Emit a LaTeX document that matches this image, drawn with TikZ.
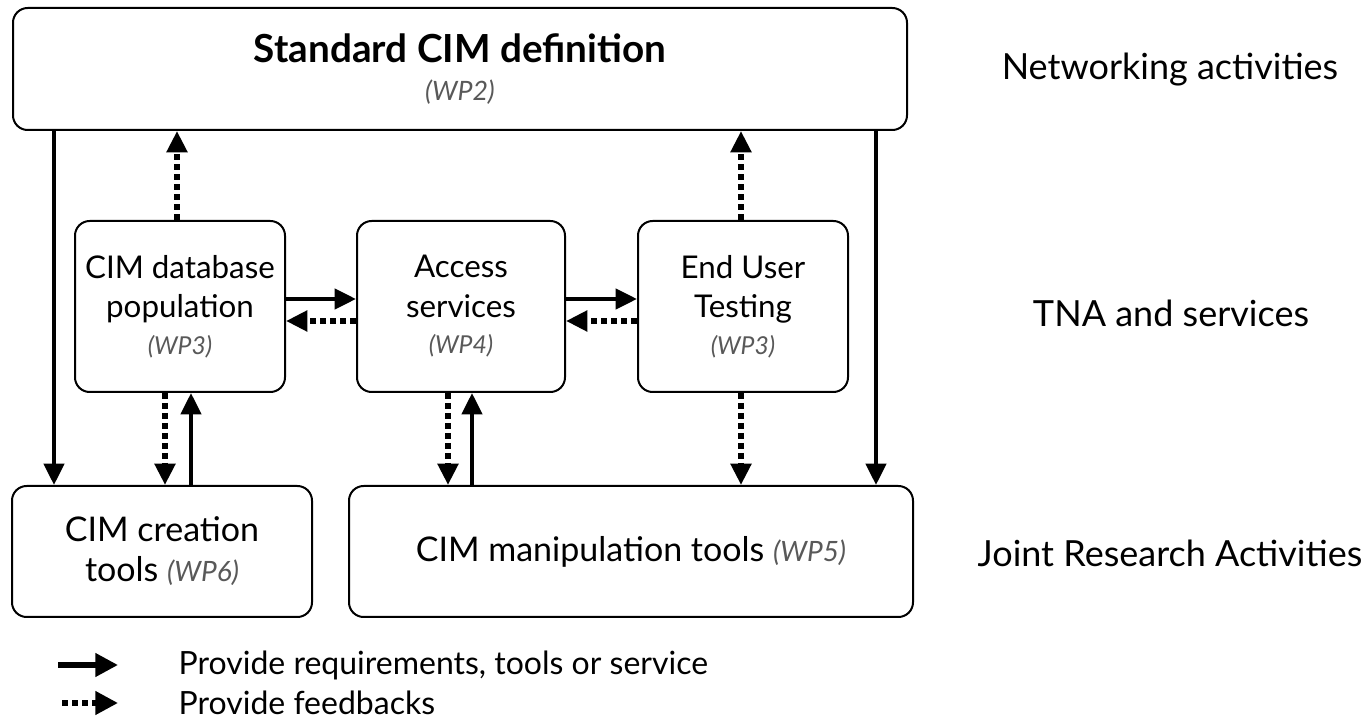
\documentclass[tikz,border=0pt]{standalone}
\usepackage{fontspec}
\setmainfont{Lato}
\usetikzlibrary{arrows.meta,calc}
\definecolor{wpgrey}{gray}{0.35}
\newcommand{\wpnum}[2][18.5]{{\itshape\color{wpgrey}\fontsize{#1}{22}\selectfont #2}}
\tikzset{
  box/.style={draw=black, line width=1.5pt, rounded corners=11pt, fill=white, align=center, inner sep=0pt,
    font=\fontsize{23.5}{29.5}\selectfont},
  lowbox/.style={box, font=\fontsize{25.5}{30}\selectfont},
  req/.style={line width=3.2pt, -{Triangle[length=16pt,width=15pt]}},
  fb/.style={line width=3.9pt, dash pattern=on 4.5pt off 3pt, -{Triangle[length=16pt,width=15pt]}},
  legreq/.style={line width=4pt, -{Triangle[length=17pt,width=17pt]}},
  legfb/.style={line width=4pt, dash pattern=on 4.5pt off 3pt, -{Triangle[length=17pt,width=17pt]}},
  side/.style={font=\fontsize{27}{30}\selectfont, anchor=center},
  leg/.style={font=\fontsize{24}{27}\selectfont, anchor=west},
}
\begin{document}
\begin{tikzpicture}[x=0.75pt,y=-0.75pt]
\useasboundingbox (0,0) rectangle (1365,723);
% boxes
\node[box, minimum width=894*0.75pt, minimum height=122*0.75pt] (top) at (460,69)
  {{\bfseries\fontsize{29}{32}\selectfont Standard CIM definition}\\[-1pt]\wpnum[20]{(WP2)}};
\node[box, minimum width=210*0.75pt, minimum height=171*0.75pt] (m1) at (180,306.5)
  {CIM database\\population\\[-2pt]\wpnum{(WP3)}};
\node[box, minimum width=208*0.75pt, minimum height=171*0.75pt] (m2) at (461,306.5)
  {Access\\services\\[-2pt]\wpnum{(WP4)}};
\node[box, minimum width=210*0.75pt, minimum height=171*0.75pt] (m3) at (743,306.5)
  {End User\\Testing\\[-2pt]\wpnum{(WP3)}};
\node[lowbox, minimum width=300*0.75pt, minimum height=131*0.75pt] (bl) at (162,551.5)
  {CIM creation\\tools \wpnum[21]{(WP6)}};
\node[lowbox, minimum width=564*0.75pt, minimum height=131*0.75pt] (br) at (631,551.5)
  {CIM manipulation tools \wpnum[21]{(WP5)}};
% side labels
\node[side] (l1) at (1170,70) {Networking activities};
\node[side] (l2) at (1171,313) {TNA and services};
\node[side] (l3) at (1170,553) {Joint Research Activities};
% long vertical arrows
\draw[req] ($(top.south west)+(42,0)$) coordinate (a1) -- (a1 |- bl.north);
\draw[req] ($(top.south west)+(864,0)$) coordinate (a2) -- (a2 |- br.north);
% feedback to top
\draw[fb] ($(m1.north west)+(103,0)$) coordinate (f1) -- (f1 |- top.south);
\draw[fb] ($(m3.north west)+(104,0)$) coordinate (f2) -- (f2 |- top.south);
% horizontal
\draw[req] ($(m1.east)+(0,-7.5)$) coordinate (h1) -- (h1 -| m2.west);
\draw[fb] ($(m2.west)+(0,14.5)$) coordinate (h2) -- (h2 -| m1.east);
\draw[req] ($(m2.east)+(0,-7.5)$) coordinate (h3) -- (h3 -| m3.west);
\draw[fb] ($(m3.west)+(0,14.5)$) coordinate (h4) -- (h4 -| m2.east);
% vertical middle-bottom
\draw[fb] ($(m1.south west)+(91,0)$) coordinate (v1) -- (v1 |- bl.north);
\coordinate (v2) at ($(m1.south west)+(117,0)$);
\draw[req] (v2 |- bl.north) -- (v2);
\draw[fb] ($(m2.south west)+(92,0)$) coordinate (v3) -- (v3 |- br.north);
\coordinate (v4) at ($(m2.south west)+(116,0)$);
\draw[req] (v4 |- br.north) -- (v4);
\draw[fb] ($(m3.south west)+(104,0)$) coordinate (v5) -- (v5 |- br.north);
% legend
\coordinate (ls1) at (58,665);
\coordinate (le1) at (118,665);
\coordinate (ls2) at (62,703);
\coordinate (le2) at (118,703);
\draw[legreq] (ls1) -- (le1);
\draw[legfb] (ls2) -- (le2);
\node[leg] (t1) at (174,665) {Provide requirements, tools or service};
\node[leg] (t2) at (174,703) {Provide feedbacks};
\end{tikzpicture}
\end{document}
